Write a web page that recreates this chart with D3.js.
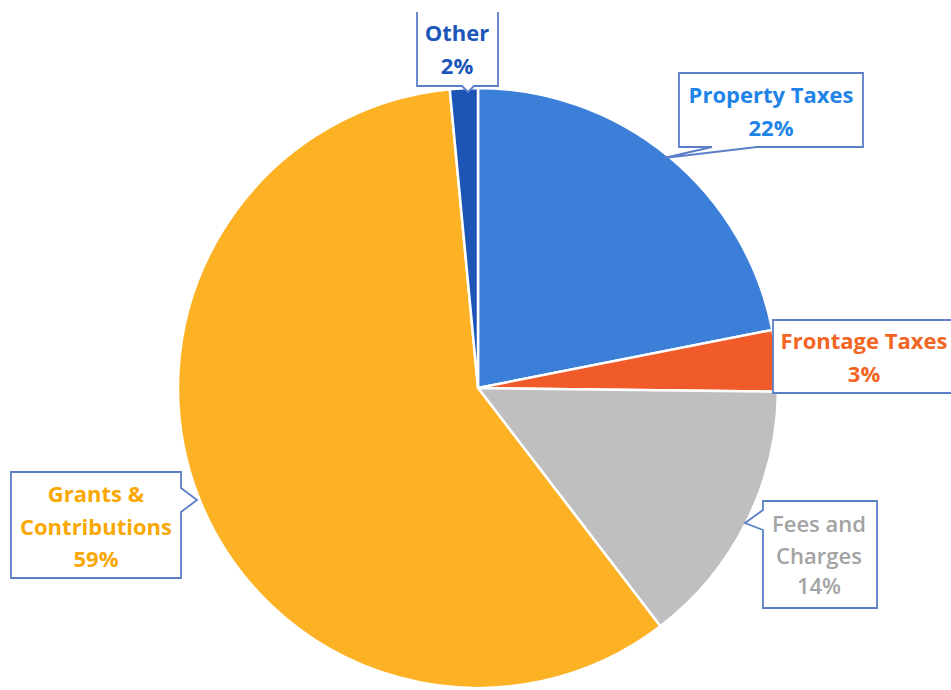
<!DOCTYPE html>
<html><head><meta charset="utf-8">
<script src="https://cdn.jsdelivr.net/npm/d3@7"></script>
<style>html,body{margin:0;padding:0;background:#fff;}svg{display:block;}</style>
</head><body>
<svg id="c" width="951" height="690"></svg>
<script>
const categories = ["Property Taxes", "Frontage Taxes", "Fees and Charges", "Grants & Contributions", "Other"];
const values = [21.9, 3.3, 14.4, 58.9, 1.5];
const pctLabels = ["22%", "3%", "14%", "59%", "2%"];
const labelLines = [["Property Taxes"], ["Frontage Taxes"], ["Fees and", "Charges"], ["Grants &", "Contributions"], ["Other"]];
const sliceColors = ["#3b7fd9", "#f15a29", "#bfbfbf", "#fdb124", "#1d55b6"];
const textColors = ["#1f84e8", "#f26522", "#a3a3a3", "#f8a800", "#1c56b8"];

const svg = d3.select("#c");
const cx = 478, cy = 388, r = 300;
const data = categories.map((c, i) => ({cat: c, value: values[i], i}));
const pie = d3.pie().sort(null).value(d => d.value);
const arc = d3.arc().innerRadius(0).outerRadius(r);
const arcs = pie(data);

const g = svg.append("g").attr("transform", `translate(${cx},${cy})`);
g.selectAll("path").data(arcs).join("path")
  .attr("d", arc)
  .attr("fill", d => sliceColors[d.data.i])
  .attr("stroke", "#fff").attr("stroke-width", 2.5).attr("stroke-linejoin", "round");

// callout boxes
const boxes = [
  {x0: 679, y0: 73, x1: 863, y1: 147, ptr: {side: "bottom", a: 712, b: 757, tx: 664, ty: 158}, cx: 771, ys: [103, 136], top: true},
  {x0: 773, y0: 320, x1: 960, y1: 393, ptr: null, cx: 864, ys: [349, 382], top: true},
  {x0: 763, y0: 501, x1: 877, y1: 608, ptr: {side: "left", a: 510, b: 530, tx: 745, ty: 523}, cx: 819, ys: [532, 564, 594], top: true},
  {x0: 11, y0: 472, x1: 181, y1: 578, ptr: {side: "right", a: 488, b: 512, tx: 197, ty: 500}, cx: 96, ys: [502, 535, 567], top: true},
  {x0: 417, y0: 12, x1: 498, y1: 86, ptr: {side: "bottom", a: 462, b: 474, tx: 468, ty: 92}, cx: 457, ys: [41, 74], top: false}
];

function boxPts(b) {
  const p = b.ptr;
  let pts = [];
  pts.push([b.x1, b.y0]);
  if (p && p.side === "right") pts.push([b.x1, p.a], [p.tx, p.ty], [b.x1, p.b]);
  pts.push([b.x1, b.y1]);
  if (p && p.side === "bottom") pts.push([p.b, b.y1], [p.tx, p.ty], [p.a, b.y1]);
  pts.push([b.x0, b.y1]);
  if (p && p.side === "left") pts.push([b.x0, p.b], [p.tx, p.ty], [b.x0, p.a]);
  pts.push([b.x0, b.y0]);
  return pts;
}

boxes.forEach((b, i) => {
  const pts = boxPts(b);
  const d = "M" + pts.map(q => q.join(",")).join("L");
  svg.append("path").attr("d", d + "Z").attr("fill", "#fff").attr("stroke", "none");
  svg.append("path").attr("d", b.top ? d + "Z" : d)
    .attr("fill", "none").attr("stroke", "#5b7fc7").attr("stroke-width", 1.8);
  const lines = labelLines[i].concat([pctLabels[i]]);
  lines.forEach((t, k) => {
    svg.append("text").attr("x", b.cx).attr("y", b.ys[k])
      .attr("text-anchor", "middle")
      .attr("font-family", "'Open Sans', sans-serif")
      .attr("font-weight", i === 2 ? 600 : 700)
      .attr("font-size", 22)
      .attr("fill", textColors[i])
      .text(t);
  });
});
</script>
</body></html>
